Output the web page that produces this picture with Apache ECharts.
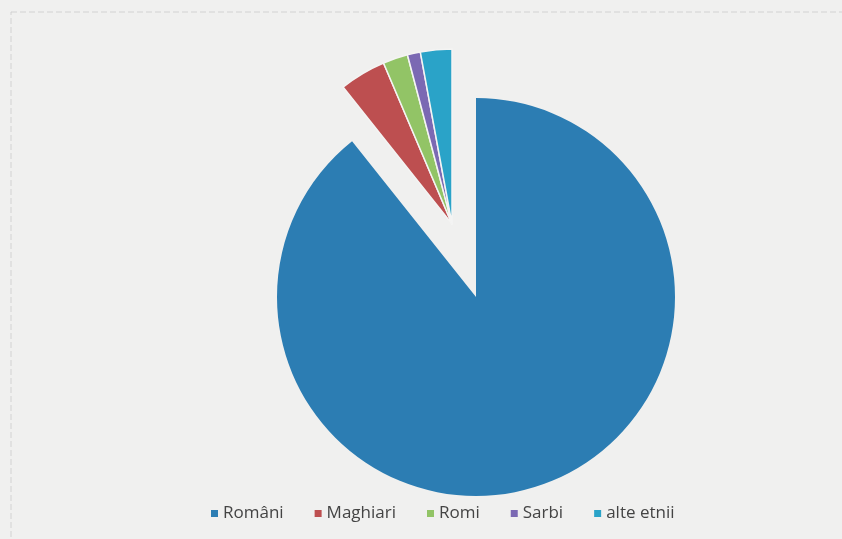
<!DOCTYPE html>
<html>
<head>
<meta charset="utf-8">
<script src="https://cdn.jsdelivr.net/npm/echarts@6/dist/echarts.min.js"></script>
<style>
html,body{margin:0;padding:0;background:#f0f0ef;}
#chart{width:842px;height:539px;}
</style>
</head>
<body>
<div id="chart"></div>
<script>
const categories = ['Români', 'Maghiari', 'Romi', 'Sarbi', 'alte etnii'];
const values = [89.3, 4.3, 2.3, 1.2, 2.9];
const colors = ['#2c7db3', '#bd4f50', '#92c466', '#7b69b3', '#2aa3c8'];

const chart = echarts.init(document.getElementById('chart'));

const mainData = categories.map((name, i) => ({
  name: name,
  value: values[i],
  itemStyle: i === 0 ? { color: colors[i] } : { color: 'rgba(0,0,0,0)', borderWidth: 0 }
}));
const explodedData = categories.map((name, i) => ({
  name: name,
  value: values[i],
  itemStyle: i === 0 ? { color: 'rgba(0,0,0,0)', borderWidth: 0 } : { color: colors[i], borderColor: '#f4f4f3', borderWidth: 1.5 }
}));
const legendData = categories.map((name, i) => ({
  name: name,
  itemStyle: { color: colors[i] }
}));

chart.setOption({
  backgroundColor: '#f0f0ef',
  animation: false,
  color: colors,
  graphic: [{
    type: 'rect',
    shape: { x: 11, y: 12, width: 900, height: 600 },
    style: { fill: 'none', stroke: '#d2d2d2', lineWidth: 1, lineDash: [6, 3] },
    silent: true
  }],
  legend: {
    data: legendData,
    left: 206,
    top: 500,
    icon: 'rect',
    itemWidth: 7,
    itemHeight: 7,
    itemGap: 31,
    textStyle: { fontFamily: 'Open Sans', fontSize: 17, color: '#444' },
    selectedMode: false
  },
  series: [{
    type: 'pie',
    center: [476, 297],
    radius: 199,
    startAngle: 90,
    clockwise: true,
    label: { show: false },
    labelLine: { show: false },
    silent: true,
    data: mainData
  }, {
    type: 'pie',
    center: [452, 224],
    radius: 175,
    startAngle: 90,
    clockwise: true,
    label: { show: false },
    labelLine: { show: false },
    silent: true,
    legendHoverLink: false,
    data: explodedData
  }]
});
</script>
</body>
</html>
